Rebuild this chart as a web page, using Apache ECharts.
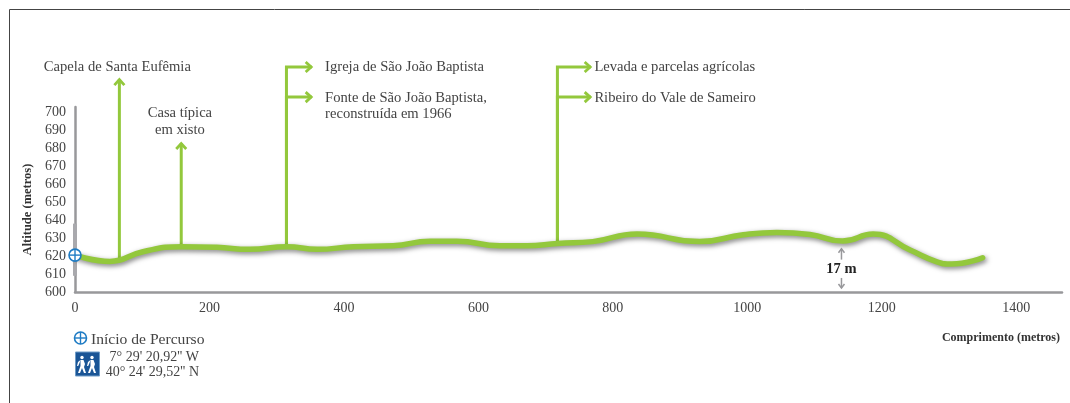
<!DOCTYPE html>
<html>
<head>
<meta charset="utf-8">
<style>
  html, body { margin: 0; padding: 0; background: #fff; }
  #main { width: 1070px; height: 403px; }
</style>
<script src="https://cdn.jsdelivr.net/npm/echarts@6/dist/echarts.min.js"></script>
</head>
<body>
<div id="main"></div>
<script>
// profile (metres)
const distance = [0, 52, 101, 159, 211, 260, 315, 360, 414, 473, 528, 568, 632, 672, 718, 770, 836, 929, 994, 1044, 1093, 1142, 1187, 1242, 1282, 1304, 1350];
const altitude = [620.5, 617, 622.4, 625.2, 624.8, 623.7, 625.2, 623.7, 625.2, 625.7, 628.2, 628.2, 625.7, 625.7, 627, 628, 632.2, 628, 631.8, 633.1, 632, 628.3, 632.2, 623.3, 616.8, 615.5, 619];

// points of interest, in axis units
const arrowX = [66, 158];
const arrowBase = [618, 625];
const arrowTip = [718.3, 682.8];
const branchX = [314.5, 314.5, 717.5, 717.5];
const branchBase = [625, 625, 627, 627];
const branchAlt = [725, 708.3, 725, 708.3];
const branchEnd = [352, 352, 767, 767];

const noteText = ['Capela de Santa Eufêmia', 'Casa típica\nem xisto', 'Igreja de São João Baptista', 'Fonte de São João Baptista,\nreconstruída em 1966', 'Levada e parcelas agrícolas', 'Ribeiro do Vale de Sameiro'];
const noteX = [63, 156, 372, 372, 772.5, 772.5];
const noteAlt = [725.2, 694.6, 725.2, 703.2, 725.2, 707.9];
const noteAlign = ['center', 'center', 'left', 'left', 'left', 'left'];

const dropX = 1140;
const dropLabel = '17 m';
const dropAlt = [618, 624, 607.8, 602.2, 612.4];

const startPoint = [0, 620.5];
const axisBand = [609, 638];

const serif = '"Liberation Serif", serif';
const green = '#93c83c';
const grey = '#98989b';
const textColor = '#444';

function crossMark(cx, cy, r) {
    return [
        { type: 'circle', shape: { cx: cx, cy: cy, r: r }, style: { fill: '#fff', stroke: '#1f7cc4', lineWidth: 1.6 } },
        { type: 'line', shape: { x1: cx - r, y1: cy, x2: cx + r, y2: cy }, style: { stroke: '#1f7cc4', lineWidth: 1.4 } },
        { type: 'line', shape: { x1: cx, y1: cy - r, x2: cx, y2: cy + r }, style: { stroke: '#1f7cc4', lineWidth: 1.4 } }
    ];
}

function stroke(points, color, width) {
    return { type: 'polyline', shape: { points: points }, style: { fill: 'none', stroke: color, lineWidth: width } };
}

function renderLeaders(params, api) {
    const out = [];
    arrowX.forEach(function (x, i) {
        const a = api.coord([x, arrowBase[i]]);
        const b = api.coord([x, arrowTip[i]]);
        out.push(stroke([a, b], green, 3));
        out.push(stroke([[b[0] - 5, b[1] + 6], [b[0], b[1] + 0.5], [b[0] + 5, b[1] + 6]], green, 2.8));
    });
    branchX.forEach(function (x, i) {
        const a = api.coord([x, branchBase[i]]);
        const b = api.coord([x, branchAlt[i]]);
        const c = api.coord([branchEnd[i], branchAlt[i]]);
        out.push(stroke([a, b, c], green, 3));
        out.push(stroke([[c[0] - 6, c[1] - 5], [c[0] - 0.5, c[1]], [c[0] - 6, c[1] + 5]], green, 2.8));
    });
    return { type: 'group', children: out };
}

function renderNotes(params, api) {
    const out = [];
    noteText.forEach(function (text, i) {
        const p = api.coord([noteX[i], noteAlt[i]]);
        out.push({
            type: 'text', x: p[0], y: p[1],
            style: { text: text, fill: textColor, font: '14.6px ' + serif, align: noteAlign[i], verticalAlign: 'middle', lineHeight: 16.5 }
        });
    });
    // 17 m height marker
    const d = dropAlt.map(function (v) { return api.coord([dropX, v]); });
    out.push(stroke([d[0], d[1]], grey, 1.5));
    out.push(stroke([[d[1][0] - 3, d[1][1] + 4], d[1], [d[1][0] + 3, d[1][1] + 4]], grey, 1.5));
    out.push(stroke([d[2], d[3]], grey, 1.5));
    out.push(stroke([[d[3][0] - 3, d[3][1] - 4], d[3], [d[3][0] + 3, d[3][1] - 4]], grey, 1.5));
    out.push({
        type: 'text', x: d[4][0], y: d[4][1],
        style: { text: dropLabel, fill: '#222', font: 'bold 14.5px ' + serif, align: 'center', verticalAlign: 'middle' }
    });
    const s = api.coord(startPoint);
    return { type: 'group', children: out.concat(crossMark(s[0], s[1], 6)) };
}

function hiker(x, y) {
    return {
        type: 'group', x: x, y: y,
        children: [
            { type: 'circle', shape: { cx: 5, cy: 1.5, r: 1.7 }, style: { fill: '#fff' } },
            { type: 'polygon', shape: { points: [[3.5, 4], [6.5, 4], [8, 8], [7, 11], [9, 17], [7, 17], [5, 12], [3, 17], [1, 17], [3.5, 10]] }, style: { fill: '#fff' } },
            { type: 'polygon', shape: { points: [[3.5, 4], [1, 6], [0, 10], [1.2, 10], [2.5, 7]] }, style: { fill: '#fff' } }
        ]
    };
}

function plainNumber(v) {
    return String(v);
}

const myChart = echarts.init(document.getElementById('main'));
myChart.setOption({
    animation: false,
    textStyle: { fontFamily: serif },
    grid: { left: 75, right: 8, top: 107, bottom: 111 },
    xAxis: {
        type: 'value', min: 0, max: 1468, interval: 200,
        splitLine: { show: false }, axisTick: { show: false },
        axisLine: { onZero: false, lineStyle: { color: grey, width: 2.5 } },
        axisLabel: { color: textColor, fontSize: 14, fontFamily: serif, margin: 9, showMaxLabel: false, formatter: plainNumber },
        name: 'Comprimento (metros)', nameLocation: 'end', nameGap: 0,
        nameTextStyle: { color: '#333', fontFamily: serif, fontWeight: 'bold', fontSize: 12, align: 'right', verticalAlign: 'top', padding: [40, 2, 0, 0] }
    },
    yAxis: {
        type: 'value', min: 600, max: 702.8, interval: 10,
        splitLine: { show: false }, axisTick: { show: false },
        axisLine: { onZero: false, lineStyle: { color: grey, width: 2.5 } },
        axisLabel: { color: textColor, fontSize: 14, fontFamily: serif, margin: 9, showMaxLabel: false, formatter: plainNumber },
        name: 'Altitude (metros)', nameLocation: 'middle', nameRotate: 90, nameGap: 41,
        nameTextStyle: { color: '#333', fontFamily: serif, fontWeight: 'bold', fontSize: 12.5, padding: [0, 20, 0, 0] }
    },
    graphic: [
        { type: 'polyline', shape: { points: [[9.5, 403], [9.5, 9.5], [1070, 9.5]] }, style: { fill: 'none', stroke: '#444', lineWidth: 1 } },
        { type: 'group', children: crossMark(80.5, 338, 6) },
        { type: 'text', x: 91, y: 339.5, style: { text: 'Início de Percurso', fill: textColor, font: '15.6px ' + serif, verticalAlign: 'middle' } },
        { type: 'rect', shape: { x: 75.5, y: 352, width: 24, height: 24 }, style: { fill: '#1a5596', stroke: '#6f9cc7', lineWidth: 1 } },
        hiker(77, 356),
        hiker(87, 356),
        { type: 'text', x: 199, y: 357.5, style: { text: "7° 29' 20,92'' W", fill: textColor, font: '14px ' + serif, align: 'right', verticalAlign: 'middle' } },
        { type: 'text', x: 199, y: 372.5, style: { text: "40° 24' 29,52'' N", fill: textColor, font: '14px ' + serif, align: 'right', verticalAlign: 'middle' } }
    ],
    series: [
        {
            type: 'line', silent: true, symbol: 'none', z: 1,
            data: axisBand.map(function (v) { return [0, v]; }),
            lineStyle: { color: '#a9a9ad', width: 4 }
        },
        { type: 'custom', silent: true, z: 2, clip: false, data: [[0, 620]], renderItem: renderLeaders },
        {
            type: 'line', silent: true, symbol: 'none', z: 3, smooth: 0.5,
            data: distance.map(function (d, i) { return [d, altitude[i]]; }),
            lineStyle: { color: green, width: 5.5, cap: 'round', shadowColor: 'rgba(0,0,0,0.5)', shadowBlur: 5, shadowOffsetX: 1.5, shadowOffsetY: 2 }
        },
        { type: 'custom', silent: true, z: 4, clip: false, data: [[0, 620]], renderItem: renderNotes }
    ]
});
</script>
</body>
</html>
